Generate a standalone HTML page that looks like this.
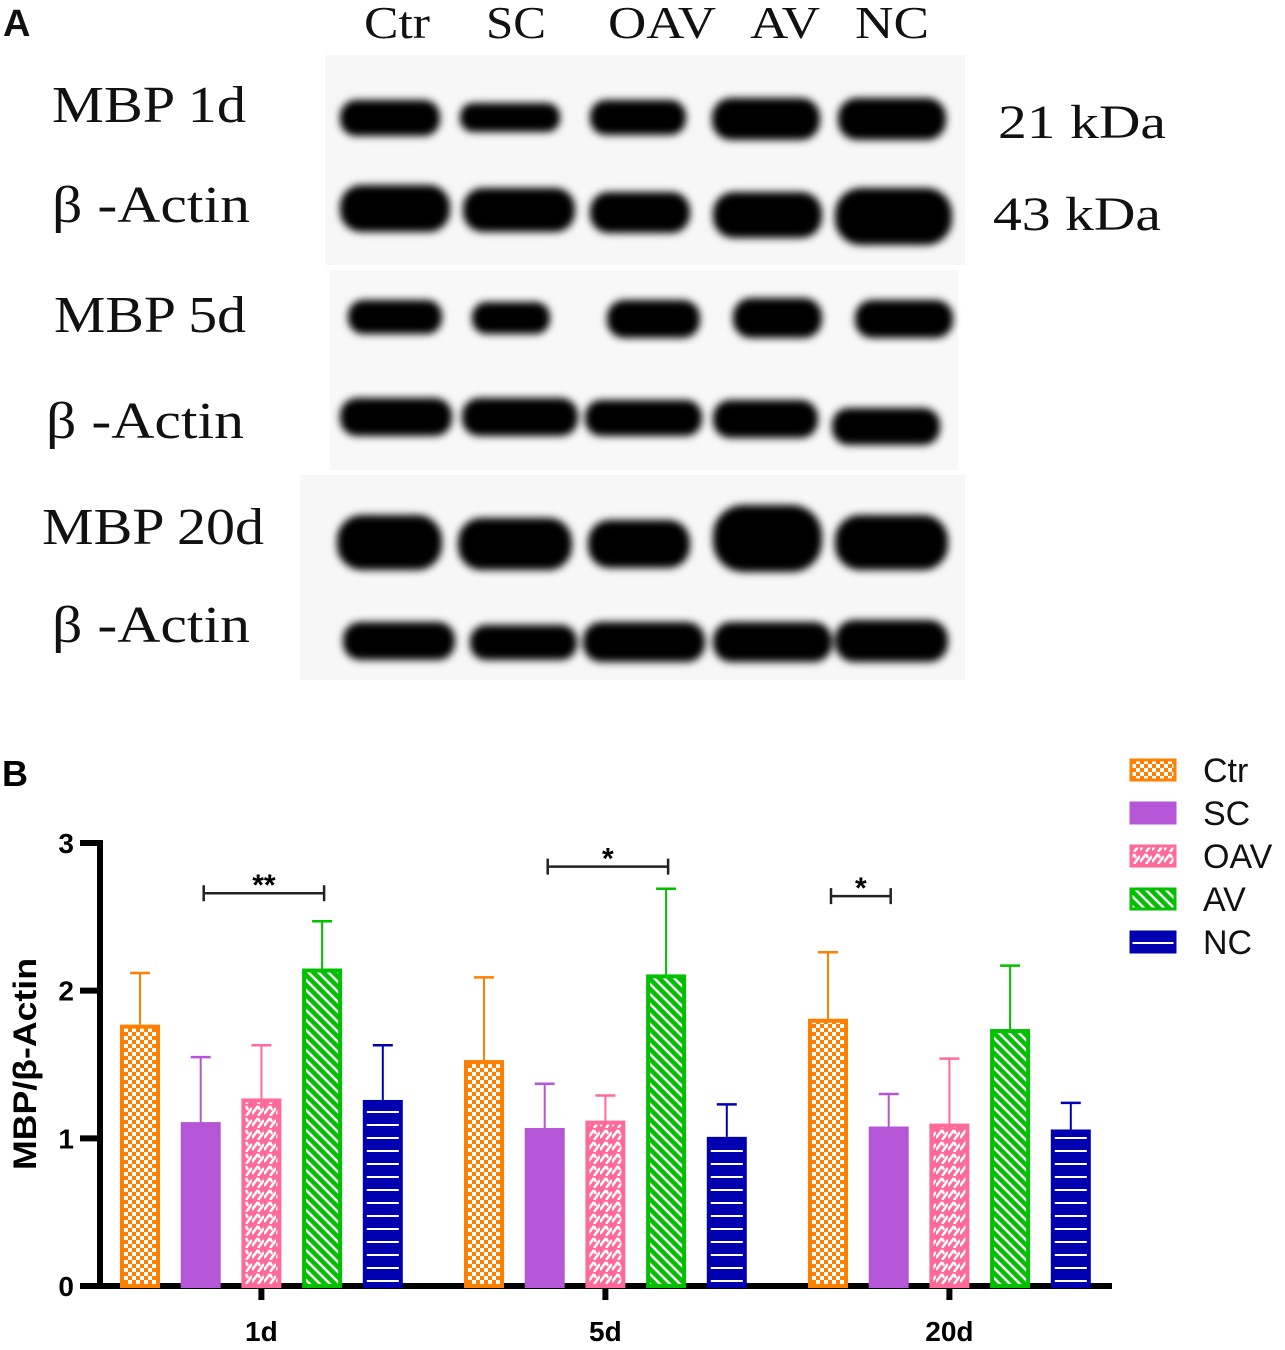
<!DOCTYPE html>
<html><head><meta charset="utf-8"><style>
body{margin:0;background:#fff;}
svg{display:block;}
</style></head><body>
<svg width="1285" height="1350" viewBox="0 0 1285 1350" xmlns="http://www.w3.org/2000/svg">
<defs>
<filter id="blur" x="-20%" y="-50%" width="140%" height="200%"><feGaussianBlur stdDeviation="4"/></filter>
<pattern id="pCheck" width="8" height="8" patternUnits="userSpaceOnUse"><rect width="8" height="8" fill="#ff7f00"/><rect width="4" height="4" fill="#fff"/><rect x="4" y="4" width="4" height="4" fill="#fff"/></pattern>
<pattern id="pZig" width="12" height="12" patternUnits="userSpaceOnUse"><rect width="12" height="12" fill="#ff6a98"/><path d="M0 10 L6 2 M6 2 L8 6 M6 12 L12 4" stroke="#fff" stroke-width="2.5"/></pattern>
<pattern id="pDiag" width="10" height="10" patternUnits="userSpaceOnUse"><rect width="10" height="10" fill="#00c000"/><path d="M-2 2 L8 12 M3 -3 L13 7" stroke="#fff" stroke-width="2.5"/></pattern>
<pattern id="pHor" width="10" height="13" patternUnits="userSpaceOnUse"><rect width="10" height="13" fill="#0000b0"/><rect y="6" width="10" height="2" fill="#fff"/></pattern>
</defs>

<g font-family="'Liberation Serif', serif" fill="#111">
<text x="3" y="36" font-family="'Liberation Sans',sans-serif" font-weight="bold" font-size="38">A</text>
<rect x="325" y="55" width="640" height="210" fill="#f7f7f7"/>
<rect x="330" y="270" width="628" height="200" fill="#f8f8f8"/>
<rect x="300" y="475" width="665" height="205" fill="#f7f7f7"/>
<g font-size="46" lengthAdjust="spacingAndGlyphs">
<text x="364" y="38" textLength="66" lengthAdjust="spacingAndGlyphs">Ctr</text><text x="486" y="38" textLength="60" lengthAdjust="spacingAndGlyphs">SC</text><text x="608" y="38" textLength="108" lengthAdjust="spacingAndGlyphs">OAV</text><text x="750" y="38" textLength="70" lengthAdjust="spacingAndGlyphs">AV</text><text x="855" y="38" textLength="74" lengthAdjust="spacingAndGlyphs">NC</text>
</g>
<g font-size="52">
<text x="52" y="122" textLength="194" lengthAdjust="spacingAndGlyphs">MBP 1d</text>
<text x="52" y="222" textLength="198" lengthAdjust="spacingAndGlyphs">β -Actin</text>
<text x="54" y="332" textLength="192" lengthAdjust="spacingAndGlyphs">MBP 5d</text>
<text x="46" y="438" textLength="198" lengthAdjust="spacingAndGlyphs">β -Actin</text>
<text x="42" y="544" textLength="222" lengthAdjust="spacingAndGlyphs">MBP 20d</text>
<text x="52" y="642" textLength="198" lengthAdjust="spacingAndGlyphs">β -Actin</text>
</g>
<text x="998" y="138" font-size="48" textLength="168" lengthAdjust="spacingAndGlyphs">21 kDa</text>
<text x="993" y="230" font-size="48" textLength="168" lengthAdjust="spacingAndGlyphs">43 kDa</text>
<g id="bands" filter="url(#blur)" fill="#000"></g>
</g>

<g font-family="'Liberation Sans',sans-serif">
<text x="2" y="786" font-weight="bold" font-size="36">B</text>
<text transform="translate(36,1064) rotate(-90)" text-anchor="middle" font-weight="bold" font-size="32" textLength="212" lengthAdjust="spacingAndGlyphs">MBP/β-Actin</text>
<g id="yaxis"></g>
<g id="bars"></g>
<g id="sig"></g>
<g id="legend"></g>
</g>
</svg>
<script>
const groups = ['1d','5d','20d'];
const seriesNames = ['Ctr','SC','OAV','AV','NC'];
const ctrVals = [1.77,1.53,1.81];
const ctrErr = [2.12,2.09,2.26];
const scVals = [1.11,1.07,1.08];
const scErr = [1.55,1.37,1.30];
const oavVals = [1.27,1.12,1.10];
const oavErr = [1.63,1.29,1.54];
const avVals = [2.15,2.11,1.74];
const avErr = [2.47,2.69,2.17];
const ncVals = [1.26,1.01,1.06];
const ncErr = [1.63,1.23,1.24];
const yTicks = [0,1,2,3];
const sigGroup = [0,1,2];
const sigFrom = [1,1,0];
const sigTo = [3,3,1];
const sigLevel = [2.66,2.84,2.64];
const sigText = ['**','*','*'];

const NS='http://www.w3.org/2000/svg';
function mk(tag,attrs,parent){const e=document.createElementNS(NS,tag);for(const k in attrs)e.setAttribute(k,attrs[k]);parent.appendChild(e);return e;}
const vals=[ctrVals,scVals,oavVals,avVals,ncVals];
const errs=[ctrErr,scErr,oavErr,avErr,ncErr];
const colors=['#ff7f00','#b456d6','#ff6a98','#00c000','#0000b0'];
const fills=['url(#pCheck)','#b456d6','url(#pZig)','url(#pDiag)','url(#pHor)'];
const y0=1286, yMax=3, yTop=843;
const yS=v=>y0-(v/yMax)*(y0-yTop);
const gx=g=>120+g*344;
const bx=(g,s)=>gx(g)+s*60.7;
const bw=40;

const ya=document.getElementById('yaxis');
let e=mk('line',{x1:100,y1:yS(3)-3,x2:100,y2:y0+3,stroke:'#000','stroke-width':6},ya);


e=mk('line',{x1:80,y1:y0,x2:1112,y2:y0,stroke:'#000','stroke-width':6},ya);


yTicks.forEach(t=>{
  let l=mk('line',{x1:80,x2:100,y1:yS(t),y2:yS(t),stroke:'#000','stroke-width':6},ya);
  
  
  let tx=mk('text',{x:74,y:yS(t)+10,'text-anchor':'end','font-weight':'bold','font-size':28},ya);
  tx.textContent=t;
  
  
});
groups.forEach((g,i)=>{
  const cx=bx(i,2)+bw/2;
  let l=mk('line',{x1:cx,x2:cx,y1:y0,y2:y0+14,stroke:'#000','stroke-width':6},ya);
  
  
  let tx=mk('text',{x:cx,y:1341,'text-anchor':'middle','font-weight':'bold','font-size':28},ya);
  tx.textContent=g;
  
  
});
const bars=document.getElementById('bars');
groups.forEach((g,i)=>{
  seriesNames.forEach((s,j)=>{
    const x=bx(i,j), v=vals[j][i], er=errs[j][i], c=colors[j];
    let el=mk('line',{x1:x+bw/2,x2:x+bw/2,y1:yS(v),y2:yS(er),stroke:c,'stroke-width':2},bars);
    
    
    let cap=mk('line',{x1:x+bw/2-10,x2:x+bw/2+10,y1:yS(er),y2:yS(er),stroke:c,'stroke-width':2.5},bars);
    
    
    let r=mk('rect',{x:x+2,y:yS(v)+2,width:bw-4,height:y0-yS(v)-2,fill:fills[j],stroke:c,'stroke-width':4},bars);
    
    
  });
});
const sig=document.getElementById('sig');
sigGroup.forEach((g,k)=>{
  const x1=bx(g,sigFrom[k])+bw/2+3, x2=bx(g,sigTo[k])+bw/2+2, y=yS(sigLevel[k]);
  let p=mk('path',{d:`M${x1} ${y-8}V${y+8}M${x1} ${y}H${x2}M${x2} ${y-8}V${y+8}`,stroke:'#222','stroke-width':2.5,fill:'none'},sig);
  
  
  let t=mk('text',{x:(x1+x2)/2,y:y+2,'text-anchor':'middle','font-size':30,'font-weight':'bold'},sig);
  t.textContent=sigText[k];
  
  
});
const lg=document.getElementById('legend');
seriesNames.forEach((s,j)=>{
  const y=760+j*43;
  let r=mk('rect',{x:1131,y:y,width:44,height:20,fill:fills[j],stroke:colors[j],'stroke-width':3},lg);
  
  
  let t=mk('text',{x:1203,y:y+22,'font-size':34,fill:'#111'},lg);
  t.textContent=s;
  
  
});
const bandRows=[
 [[340,440,100,136],[460,560,103,132],[590,686,100,135],[712,820,98,140],[838,946,98,140]],
 [[340,450,185,232],[463,575,188,232],[590,690,192,233],[713,822,192,238],[835,952,188,245]],
 [[348,442,300,334],[472,550,302,334],[607,700,300,338],[733,822,298,338],[855,953,300,338]],
 [[340,452,398,436],[462,578,398,436],[585,702,400,436],[713,818,400,438],[832,940,408,445]],
 [[337,442,515,570],[458,572,518,570],[588,690,520,568],[713,822,505,572],[835,948,515,570]],
 [[343,455,622,660],[470,577,625,660],[583,705,622,662],[713,832,622,662],[835,948,620,662]]
];
const bg=document.getElementById('bands');
bandRows.forEach((row,ri)=>row.forEach((b,bi)=>{
  let r=mk('rect',{x:b[0],y:b[2],width:b[1]-b[0],height:b[3]-b[2],rx:(b[3]-b[2])/2.2},bg);
  
  
}));
</script>
</body></html>
